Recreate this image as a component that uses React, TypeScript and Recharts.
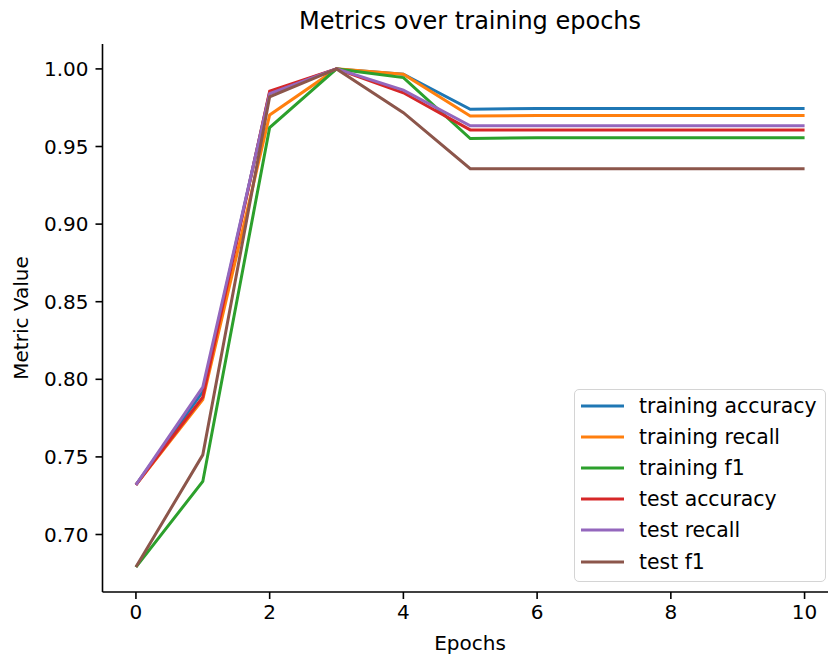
import React from 'react';
import { LineChart, Line, XAxis, YAxis, Legend } from 'recharts';

const epochs = [0, 1, 2, 3, 4, 5, 6, 7, 8, 9, 10];
const trainingAccuracy = [0.732, 0.792, 0.9848, 1.0, 0.9966, 0.974, 0.9745, 0.9745, 0.9745, 0.9745, 0.9745];
const trainingRecall = [0.732, 0.787, 0.9703, 1.0, 0.9966, 0.9697, 0.9699, 0.9699, 0.9699, 0.9699, 0.9699];
const trainingF1 = [0.679, 0.7342, 0.9622, 1.0, 0.9944, 0.9551, 0.9557, 0.9557, 0.9557, 0.9557, 0.9557];
const testAccuracy = [0.732, 0.7885, 0.9857, 1.0, 0.9846, 0.9607, 0.9607, 0.9607, 0.9607, 0.9607, 0.9607];
const testRecall = [0.732, 0.795, 0.984, 1.0, 0.9863, 0.9633, 0.9633, 0.9633, 0.9633, 0.9633, 0.9633];
const testF1 = [0.679, 0.7513, 0.982, 1.0, 0.9718, 0.9357, 0.9357, 0.9357, 0.9357, 0.9357, 0.9357];

const seriesNames = ['training accuracy', 'training recall', 'training f1', 'test accuracy', 'test recall', 'test f1'];
const seriesColors = ['#1f77b4', '#ff7f0e', '#2ca02c', '#d62728', '#9467bd', '#8c564b'];
const seriesValues = [trainingAccuracy, trainingRecall, trainingF1, testAccuracy, testRecall, testF1];

const xTicks = [0, 2, 4, 6, 8, 10];
const yTicks = [0.7, 0.75, 0.8, 0.85, 0.9, 0.95, 1.0];

const titleText = 'Metrics over training epochs';
const xLabelText = 'Epochs';
const yLabelText = 'Metric Value';

const data = epochs.map((e, i) => {
  const row: Record<string, number> = { epoch: e };
  seriesNames.forEach((n, k) => {
    row[n] = seriesValues[k][i];
  });
  return row;
});

const FONT = '"DejaVu Sans", sans-serif';

const renderLegend = () => (
  <div
    style={{
      boxSizing: 'border-box',
      width: 252,
      height: 193,
      background: 'rgba(255,255,255,0.8)',
      border: '1.5px solid #d4d4d4',
      borderRadius: 5,
      paddingTop: 0,
      fontFamily: FONT,
      fontSize: 20.4,
      color: '#000',
    }}
  >
    {seriesNames.map((n, k) => (
      <div key={n} style={{ display: 'flex', alignItems: 'center', height: 31.2 }}>
        <svg width={59} height={10} style={{ marginLeft: 5, flex: 'none' }}>
          <line x1={1} y1={5} x2={44} y2={5} stroke={seriesColors[k]} strokeWidth={3} />
        </svg>
        <span style={{ whiteSpace: 'nowrap', lineHeight: '24px' }}>{n}</span>
      </div>
    ))}
  </div>
);

export default function App() {
  return (
    <div style={{ position: 'fixed', left: 0, top: 0, width: 828, height: 660, overflow: 'hidden', background: '#fff' }}>
      <LineChart width={850} height={660} data={data} margin={{ top: 44, right: 12, bottom: 0, left: 0 }}>
        <XAxis
          dataKey="epoch"
          type="number"
          domain={[-0.5, 10.5]}
          ticks={xTicks}
          height={68}
          tickSize={7}
          tickMargin={6}
          stroke="#000"
          axisLine={{ stroke: '#000', strokeWidth: 1.6 }}
          tickLine={{ stroke: '#000', strokeWidth: 1.6 }}
          tick={{ fill: '#000', fontSize: 20, fontFamily: FONT }}
          allowDataOverflow
        />
        <XAxis
          xAxisId="top"
          dataKey="epoch"
          type="number"
          orientation="top"
          domain={[-0.5, 10.5]}
          height={0}
          tick={false}
          tickLine={false}
          axisLine={{ stroke: '#000', strokeWidth: 1.6 }}
        />
        <YAxis
          type="number"
          domain={[0.66295, 1.01605]}
          ticks={yTicks}
          width={102.5}
          tickSize={7}
          tickMargin={7}
          allowDataOverflow
          tickFormatter={(v: number) => v.toFixed(2)}
          axisLine={{ stroke: '#000', strokeWidth: 1.6 }}
          tickLine={{ stroke: '#000', strokeWidth: 1.6 }}
          tick={{ fill: '#000', fontSize: 20, fontFamily: FONT }}
        />
        {seriesNames.map((n, k) => (
          <Line
            key={n}
            type="linear"
            dataKey={n}
            name={n}
            stroke={seriesColors[k]}
            strokeWidth={3}
            dot={false}
            activeDot={false}
            isAnimationActive={false}
          />
        ))}
        <Legend
          layout="vertical"
          align="center"
          verticalAlign="middle"
          content={renderLegend}
          wrapperStyle={{ position: 'absolute', left: 574, top: 389, width: 252, height: 193 }}
        />
      </LineChart>
      <svg
        width={828}
        height={660}
        style={{ position: 'absolute', left: 0, top: 0, pointerEvents: 'none' }}
      >
        <text x={470} y={29} textAnchor="middle" fontSize={24} fontFamily={FONT} fill="#000">
          {titleText}
        </text>
        <text x={470} y={650} textAnchor="middle" fontSize={20} fontFamily={FONT} fill="#000">
          {xLabelText}
        </text>
        <text
          transform="translate(28,318) rotate(-90)"
          textAnchor="middle"
          fontSize={20}
          fontFamily={FONT}
          fill="#000"
        >
          {yLabelText}
        </text>
      </svg>
    </div>
  );
}
